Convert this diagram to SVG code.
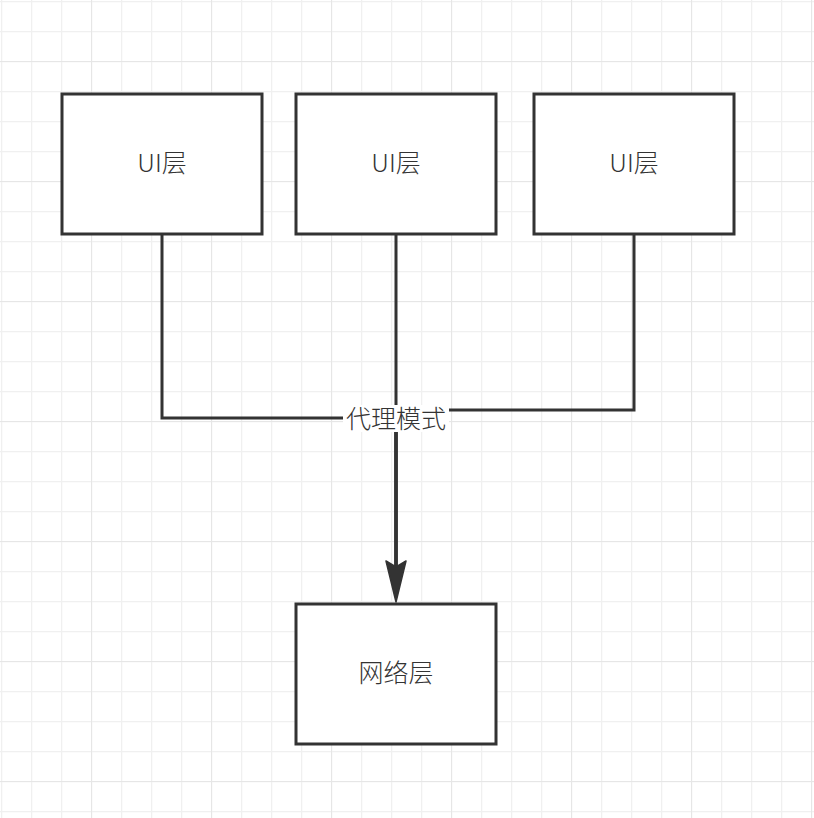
<svg xmlns="http://www.w3.org/2000/svg" width="814" height="818" viewBox="0 0 814 818">
<defs>
<pattern id="minor" width="30" height="30" patternUnits="userSpaceOnUse" x="1" y="1">
<path d="M0.5 0V30M0 0.5H30" fill="none" stroke="#f0f0f0" stroke-width="1.5"/>
</pattern>
<pattern id="major" width="120" height="120" patternUnits="userSpaceOnUse" x="91" y="61">
<path d="M0 0V120M0 0H120" fill="none" stroke="#e6e6e6" stroke-width="2"/>
</pattern>
<style>
.box{fill:#fff;stroke:#333;stroke-width:3}
.lbl{font-family:"Noto Sans CJK SC","Noto Sans",sans-serif;font-size:25px;font-weight:300;fill:#333;text-anchor:middle;dominant-baseline:central}
.edge{fill:none;stroke:#333;stroke-width:3}
.head{fill:#333;stroke:#333;stroke-width:1.5;stroke-linejoin:round}
</style>
</defs>
<rect width="814" height="818" fill="#fff"/>
<rect width="814" height="818" fill="url(#minor)"/>
<rect width="814" height="818" fill="url(#major)"/>
<g id="connectors">
<path class="edge" d="M162 235 V418 H396 V566"/>
<path class="edge" d="M396 235 V566"/>
<path class="edge" d="M634 235 V410 H396 V566"/>
<path class="edge" d="M396 410 V566" stroke-width="4.5"/>
<path class="head" d="M386 561 L396 567 L406 561 L396 602 Z"/>
<rect x="343" y="405" width="106" height="27" fill="#fff"/>
<text class="lbl" x="396" y="417">代理模式</text>
</g>
<g id="ui1"><rect class="box" x="62" y="94" width="200" height="140"/><text class="lbl" x="162" y="161">UI层</text></g>
<g id="ui2"><rect class="box" x="296" y="94" width="200" height="140"/><text class="lbl" x="396" y="161">UI层</text></g>
<g id="ui3"><rect class="box" x="534" y="94" width="200" height="140"/><text class="lbl" x="634" y="161">UI层</text></g>
<g id="net"><rect class="box" x="296" y="604" width="200" height="140"/><text class="lbl" x="396" y="671">网络层</text></g>
</svg>
